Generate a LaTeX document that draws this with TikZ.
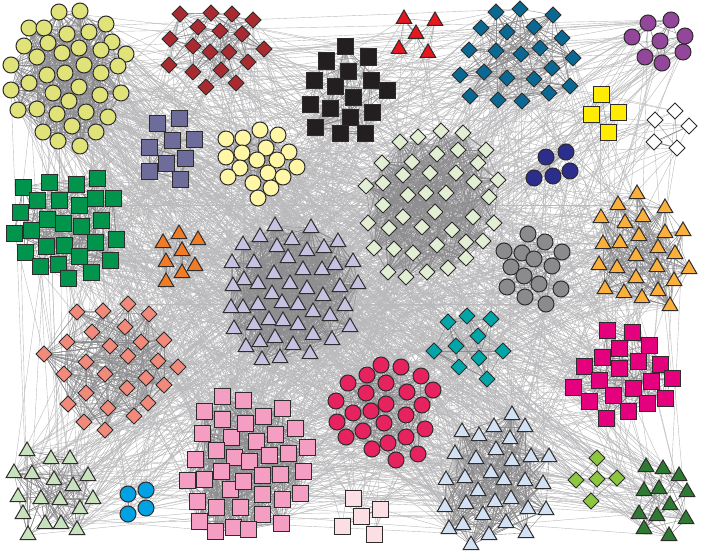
\documentclass[tikz,border=0pt]{standalone}
\usetikzlibrary{shapes.geometric}
\pgfdeclarelayer{bg}
\pgfsetlayers{bg,main}
\definecolor{outl}{HTML}{2E2C2D}
\definecolor{edgeA}{HTML}{8E8E90}
\definecolor{edgeB}{HTML}{BABABC}
\definecolor{cYG}{HTML}{DFE37A}
\definecolor{cDR}{HTML}{A92B31}
\definecolor{cRT}{HTML}{E8161F}
\definecolor{cBD}{HTML}{0A6892}
\definecolor{cPU}{HTML}{93479B}
\definecolor{cBK}{HTML}{231F20}
\definecolor{cSL}{HTML}{6E6C9B}
\definecolor{cLY}{HTML}{FFF6A6}
\definecolor{cYS}{HTML}{FFEC00}
\definecolor{cWD}{HTML}{FFFFFF}
\definecolor{cNV}{HTML}{2B2E8C}
\definecolor{cPG}{HTML}{E3EFD4}
\definecolor{cGS}{HTML}{00944C}
\definecolor{cOT}{HTML}{F27B25}
\definecolor{cLV}{HTML}{C6C2E2}
\definecolor{cGC}{HTML}{8B8B8D}
\definecolor{cOY}{HTML}{FBB03B}
\definecolor{cSA}{HTML}{F28A7C}
\definecolor{cTD}{HTML}{00A6A8}
\definecolor{cMG}{HTML}{E5007E}
\definecolor{cCR}{HTML}{E7235F}
\definecolor{cPK}{HTML}{F49EC4}
\definecolor{cLB}{HTML}{D2E1F4}
\definecolor{cLG}{HTML}{C8E2BD}
\definecolor{cBC}{HTML}{00A2E4}
\definecolor{cPP}{HTML}{FCDFE4}
\definecolor{cGD}{HTML}{8DC63F}
\definecolor{cDG}{HTML}{2F7A32}
\tikzset{
  nd/.style={draw=outl, line width=1pt, inner sep=0pt, outer sep=0pt},
  circ/.style={nd, circle, minimum size=16pt, fill=#1},
  sqr/.style={nd, rectangle, minimum size=16pt, fill=#1},
  dia/.style={nd, diamond, minimum size=16pt, fill=#1},
  tri/.style={nd, regular polygon, regular polygon sides=3, minimum size=18pt, fill=#1},
  intraedge/.style={draw=edgeA, line width=0.4pt},
  interedge/.style={draw=edgeB, line width=0.4pt},
}
\newcount\vc
\def\intralist{}
\newcommand\mkcluster[2]{%
  \xdef\cstart{\the\numexpr\vc+1\relax}%
  \foreach \x/\y in {#2}{%
    \global\advance\vc by 1
    \node[#1] (v\the\vc) at (\x,\y) {};
  }%
  \ifx\intralist\empty
    \xdef\intralist{\cstart/\the\vc}%
  \else
    \xdef\intralist{\intralist,\cstart/\the\vc}%
  \fi
}
\begin{document}
\begin{tikzpicture}[x=1pt,y={(0pt,-1pt)}]
\useasboundingbox (0,0) rectangle (706,551);
\pgfmathsetseed{4242}
% yellow-green circles
\mkcluster{circ=cYG}{59/12,80/11,29/28,44/28,106/24,67/34,89/32,24/46,48/43,79/48,112/42,101/50,126/54,37/57,62/53,11/65,84/65,118/66,47/75,65/73,101/73,29/83,11/90,79/87,53/93,100/95,121/93,69/101,18/110,37/109,57/114,86/112,108/117,72/126,43/132,96/132,58/141,80/146}
% dark red diamonds
\mkcluster{dia=cDR}{180/14,211/13,232/14,198/27,220/31,253/20,170/39,242/34,193/46,210/52,229/52,264/49,169/65,248/62,193/72,221/70,206/87,236/83}
% red triangles
\mkcluster{tri=cRT}{404/19,435/21,416/34,399/49,428/53}
% blue diamonds
\mkcluster{dia=cBD}{496/12,520/9,553/15,481/28,507/32,534/27,562/38,469/50,496/51,521/54,540/48,573/58,460/75,484/72,507/78,534/79,552/68,570/86,470/96,498/100,522/101,549/93}
% purple circles
\mkcluster{circ=cPU}{648/23,671/20,632/37,660/41,685/36,645/57,683/52,662/63}
% black squares
\mkcluster{sqr=cBK}{345/47,326/61,368/57,348/71,314/80,371/80,387/90,335/86,353/97,310/104,330/108,372/112,350/117,315/127,340/133,365/133}
% slate squares
\mkcluster{sqr=cSL}{157/123,179/118,172/140,194/139,149/147,185/158,166/163,149/171,180/179}
% light yellow circles
\mkcluster{circ=cLY}{226/139,243/138,260/130,278/135,266/148,289/152,226/157,242/153,257/160,277/160,297/167,240/168,268/173,283/177,228/177,253/183,271/188,258/198}
% yellow squares
\mkcluster{sqr=cYS}{601/94,591/114,618/112,608/132}
% white diamonds
\mkcluster{dia=cWD}{675/111,655/120,689/126,654/142,677/148}
% navy circles
\mkcluster{circ=cNV}{546/157,566/152,534/178,553/176,570/171}
% pale green diamonds
\mkcluster{dia=cPG}{400/142,418/137,441/131,463/133,486/150,458/150,437/154,412/162,382/163,478/163,403/175,430/173,456/173,474/182,498/180,366/186,383/183,408/195,426/193,446/193,489/197,383/205,403/217,435/212,473/217,368/223,389/228,422/227,452/230,494/223,466/242,483/241,374/248,394/249,413/253,437/245,466/258,388/272,406/277,427/272,448/268}
% green squares
\mkcluster{sqr=cGS}{23/187,49/182,76/184,97/178,37/200,59/200,79/205,95/198,113/198,20/212,47/219,63/223,81/226,101/220,14/233,31/230,46/246,64/245,95/242,116/239,25/252,79/256,110/260,40/266,58/264,91/272,68/278}
% orange triangles
\mkcluster{tri=cOT}{163/243,179/234,198/240,182/251,166/262,195/266,182/273,166/282}
% lavender triangles
\mkcluster{tri=cLV}{275/226,311/228,260/237,292/240,338/242,243/245,277/247,307/251,324/248,288/258,254/263,353/262,335/265,232/263,303/270,322/270,274/274,244/280,258/284,290/284,307/289,340/287,358/284,233/286,272/294,323/296,282/303,258/305,298/305,345/306,243/308,313/312,231/308,269/320,283/321,298/325,330/316,254/325,350/327,234/329,313/335,275/338,260/342,332/340,293/345,246/347,310/354,280/358,262/360}
% gray circles
\mkcluster{circ=cGC}{528/234,545/242,504/251,522/253,534/259,562/252,511/267,552/266,524/276,507/287,539/284,561/289,525/297,546/304}
% orange-yellow triangles
\mkcluster{tri=cOY}{637/194,618/205,665/208,601/218,643/217,625/223,683/231,665/233,639/236,603/244,620/243,658/248,675/254,636/256,599/265,617/268,657/267,689/269,636/278,674/281,605/289,624/293,642/298,658/291,670/306}
% salmon diamonds
\mkcluster{dia=cSA}{128/304,77/312,103/311,149/314,92/332,125/327,67/342,110/346,141/342,164/340,44/354,86/362,128/356,158/361,178/367,64/374,105/374,86/393,127/388,146/378,164/385,68/404,108/408,148/403,134/416,84/422,105/430}
% teal diamonds
\mkcluster{dia=cTD}{448/322,467/316,491/319,478/336,434/351,456/346,503/351,479/358,459/367,487/379}
% magenta squares
\mkcluster{sqr=cMG}{607/330,632/332,619/348,649/345,602/357,638/361,584/366,619/368,660/364,672/378,573/387,599/380,633/388,651/381,589/401,613/395,647/403,665/398,606/418,628/411}
% crimson circles
\mkcluster{circ=cCR}{381/365,401/367,367/375,421/376,348/383,386/383,433/390,366/393,407/392,336/401,386/404,422/405,353/413,371/411,406/415,337/422,384/423,425/429,363/431,346/437,406/437,388/443,372/449,418/454,396/460}
% pink squares
\mkcluster{sqr=cPK}{222/396,204/411,222/419,202/433,231/437,216/450,195/459,234/457,221/471,187/480,204/479,230/489,197/501,216/507,199/521,215/531,233/527,243/400,282/408,263/416,245/423,295/428,275/434,256/441,307/447,269/455,288/453,249/461,303/471,280/474,262/475,243/481,300/493,262/494,282/499,240/507,262/514,281/523,248/529}
% pale pink squares
\mkcluster{sqr=cPP}{353/498,380/509,361/516,342/526,374/534}
% light blue triangles
\mkcluster{tri=cLB}{462/432,455/454,465/478,446/480,445/507,466/504,449/529,463/525,471/545,512/415,494/427,525/427,479/436,510/439,496/450,476/459,512/461,531/457,549/457,491/473,504/480,525/481,543/484,478/491,511/499,495/502,528/509,546/510,483/515,506/523,526/533,489/535}
% light green triangles
\mkcluster{tri=cLG}{27/451,51/459,70/459,14/473,32/474,54/480,88/476,73/486,18/497,41/499,60/500,93/499,80/509,23/514,45/524,61/524,77/530,28/535}
% blue circles
\mkcluster{circ=cBC}{128/494,146/490,128/514,146/508}
% green diamonds
\mkcluster{dia=cGD}{597/458,576/480,597/479,617/478,591/501}
% dark green triangles
\mkcluster{tri=cDG}{646/467,663/469,679/476,644/491,659/489,687/492,670/505,639/514,657/516,686/519,644/529,669/536}
\begin{pgfonlayer}{bg}
\fill[white] (0,0) rectangle (706,551);
\foreach \e in {1,...,1900}{
  \pgfmathtruncatemacro\ea{random(1,\the\vc)}
  \pgfmathtruncatemacro\eb{random(1,\the\vc)}
  \draw[interedge] (v\ea.center) -- (v\eb.center);
}
\foreach \cs/\ce in \intralist {
  \pgfmathtruncatemacro\nn{\ce-\cs+1}
  \pgfmathtruncatemacro\mm{\nn<=10 ? \nn*(\nn-1)/2*1.0 : \nn*(\nn-1)/2*0.75}
  \foreach \e in {1,...,\mm}{
    \pgfmathtruncatemacro\ea{random(\cs,\ce)}
    \pgfmathtruncatemacro\eb{random(\cs,\ce)}
    \draw[intraedge] (v\ea.center) -- (v\eb.center);
  }
}
\end{pgfonlayer}
\end{tikzpicture}
\end{document}
